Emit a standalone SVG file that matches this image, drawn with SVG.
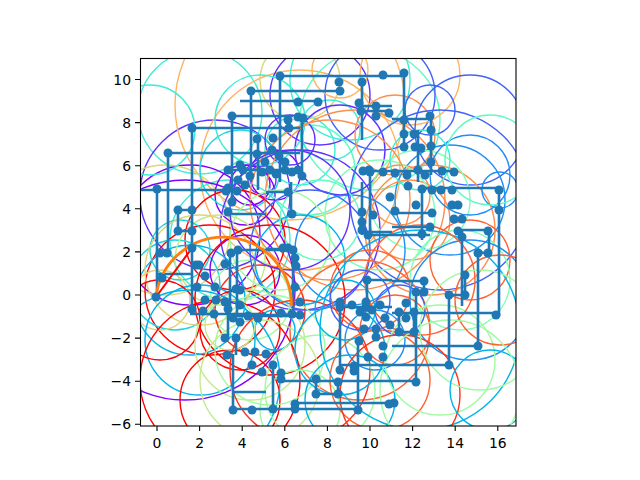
<svg xmlns="http://www.w3.org/2000/svg" width="640" height="480" viewBox="0 0 640 480">
<style>
.c{fill:none;stroke-width:1.4}
.ln{fill:none;stroke:#1f77b4;stroke-width:2.6;stroke-linejoin:round}
.mk{fill:#1f77b4}
.t{font-family:"DejaVu Sans",sans-serif;font-size:13.9px;fill:#000}
.tk{stroke:#000;stroke-width:1.1}
</style>
<defs><clipPath id="ax"><rect x="140" y="58" width="376" height="368"/></clipPath></defs>
<rect x="0" y="0" width="640" height="480" fill="#fff"/>
<g id="circles" clip-path="url(#ax)">
<circle class="c" cx="200" cy="112" r="62" stroke="#40ecd4"/>
<circle class="c" cx="215" cy="195" r="75" stroke="#6032fe"/>
<circle class="c" cx="190" cy="235" r="70" stroke="#8000ff"/>
<circle class="c" cx="300" cy="170" r="100" stroke="#ffb462"/>
<circle class="c" cx="290" cy="105" r="115" stroke="#ffb462"/>
<circle class="c" cx="165" cy="230" r="65" stroke="#dfd478"/>
<circle class="c" cx="230" cy="240" r="60" stroke="#40ecd4"/>
<circle class="c" cx="150" cy="130" r="45" stroke="#40ecd4"/>
<circle class="c" cx="245" cy="195" r="30" stroke="#8000ff"/>
<circle class="c" cx="250" cy="185" r="20" stroke="#8000ff"/>
<circle class="c" cx="262" cy="180" r="14" stroke="#6032fe"/>
<circle class="c" cx="275" cy="175" r="25" stroke="#8000ff"/>
<circle class="c" cx="300" cy="150" r="35" stroke="#40ecd4"/>
<circle class="c" cx="310" cy="170" r="45" stroke="#60fac5"/>
<circle class="c" cx="240" cy="170" r="40" stroke="#20d4e1"/>
<circle class="c" cx="320" cy="95" r="50" stroke="#6032fe"/>
<circle class="c" cx="370" cy="120" r="70" stroke="#60fac5"/>
<circle class="c" cx="300" cy="80" r="40" stroke="#dfd478"/>
<circle class="c" cx="330" cy="130" r="30" stroke="#40ecd4"/>
<circle class="c" cx="350" cy="80" r="60" stroke="#40ecd4"/>
<circle class="c" cx="380" cy="95" r="55" stroke="#4062fa"/>
<circle class="c" cx="340" cy="150" r="45" stroke="#6032fe"/>
<circle class="c" cx="395" cy="135" r="40" stroke="#ff8e4a"/>
<circle class="c" cx="290" cy="140" r="25" stroke="#6032fe"/>
<circle class="c" cx="340" cy="70" r="28" stroke="#ffb462"/>
<circle class="c" cx="260" cy="120" r="45" stroke="#40ecd4"/>
<circle class="c" cx="355" cy="200" r="90" stroke="#ff8e4a"/>
<circle class="c" cx="300" cy="230" r="80" stroke="#6032fe"/>
<circle class="c" cx="410" cy="75" r="50" stroke="#ffb462"/>
<circle class="c" cx="470" cy="130" r="55" stroke="#4062fa"/>
<circle class="c" cx="440" cy="200" r="90" stroke="#4062fa"/>
<circle class="c" cx="430" cy="110" r="25" stroke="#4062fa"/>
<circle class="c" cx="450" cy="200" r="55" stroke="#208ef4"/>
<circle class="c" cx="430" cy="230" r="65" stroke="#ff8e4a"/>
<circle class="c" cx="410" cy="220" r="40" stroke="#ff8e4a"/>
<circle class="c" cx="400" cy="195" r="30" stroke="#ff8e4a"/>
<circle class="c" cx="420" cy="200" r="50" stroke="#80ffb4"/>
<circle class="c" cx="380" cy="215" r="55" stroke="#80ffb4"/>
<circle class="c" cx="470" cy="175" r="40" stroke="#208ef4"/>
<circle class="c" cx="500" cy="190" r="18" stroke="#208ef4"/>
<circle class="c" cx="490" cy="160" r="45" stroke="#60fac5"/>
<circle class="c" cx="420" cy="160" r="30" stroke="#40ecd4"/>
<circle class="c" cx="470" cy="260" r="40" stroke="#ff6232"/>
<circle class="c" cx="460" cy="280" r="50" stroke="#80ffb4"/>
<circle class="c" cx="210" cy="290" r="65" stroke="#ff0000"/>
<circle class="c" cx="235" cy="240" r="50" stroke="#ff0000"/>
<circle class="c" cx="175" cy="285" r="45" stroke="#20d4e1"/>
<circle class="c" cx="190" cy="300" r="55" stroke="#00b4eb"/>
<circle class="c" cx="220" cy="260" r="45" stroke="#c0ec8e"/>
<circle class="c" cx="250" cy="300" r="40" stroke="#a0faa2"/>
<circle class="c" cx="180" cy="250" r="30" stroke="#20d4e1"/>
<circle class="c" cx="160" cy="300" r="30" stroke="#dfd478"/>
<circle class="c" cx="200" cy="270" r="55" stroke="#dfd478"/>
<circle class="c" cx="260" cy="310" r="45" stroke="#ff3219"/>
<circle class="c" cx="245" cy="270" r="35" stroke="#8000ff"/>
<circle class="c" cx="270" cy="300" r="75" stroke="#ff0000"/>
<circle class="c" cx="330" cy="200" r="80" stroke="#ff8e4a"/>
<circle class="c" cx="310" cy="250" r="60" stroke="#4062fa"/>
<circle class="c" cx="300" cy="260" r="45" stroke="#00b4eb"/>
<circle class="c" cx="350" cy="250" r="55" stroke="#208ef4"/>
<circle class="c" cx="280" cy="240" r="50" stroke="#a0faa2"/>
<circle class="c" cx="320" cy="220" r="40" stroke="#60fac5"/>
<circle class="c" cx="290" cy="210" r="60" stroke="#6032fe"/>
<circle class="c" cx="370" cy="290" r="40" stroke="#ff6232"/>
<circle class="c" cx="360" cy="330" r="70" stroke="#ff6232"/>
<circle class="c" cx="200" cy="340" r="55" stroke="#00b4eb"/>
<circle class="c" cx="220" cy="380" r="80" stroke="#ff0000"/>
<circle class="c" cx="160" cy="320" r="40" stroke="#ff0000"/>
<circle class="c" cx="240" cy="330" r="40" stroke="#ff0000"/>
<circle class="c" cx="250" cy="345" r="55" stroke="#c0ec8e"/>
<circle class="c" cx="230" cy="400" r="50" stroke="#ff0000"/>
<circle class="c" cx="190" cy="380" r="90" stroke="#00b4eb"/>
<circle class="c" cx="185" cy="290" r="110" stroke="#8000ff"/>
<circle class="c" cx="270" cy="350" r="55" stroke="#a0faa2"/>
<circle class="c" cx="260" cy="380" r="60" stroke="#c0ec8e"/>
<circle class="c" cx="275" cy="330" r="20" stroke="#00b4eb"/>
<circle class="c" cx="230" cy="325" r="25" stroke="#c0ec8e"/>
<circle class="c" cx="300" cy="370" r="70" stroke="#ff3219"/>
<circle class="c" cx="320" cy="390" r="55" stroke="#a0faa2"/>
<circle class="c" cx="340" cy="350" r="45" stroke="#00b4eb"/>
<circle class="c" cx="300" cy="410" r="40" stroke="#a0faa2"/>
<circle class="c" cx="350" cy="400" r="45" stroke="#00b4eb"/>
<circle class="c" cx="380" cy="380" r="50" stroke="#ff6232"/>
<circle class="c" cx="395" cy="330" r="35" stroke="#ff6232"/>
<circle class="c" cx="400" cy="310" r="25" stroke="#4062fa"/>
<circle class="c" cx="375" cy="340" r="30" stroke="#208ef4"/>
<circle class="c" cx="345" cy="310" r="30" stroke="#00b4eb"/>
<circle class="c" cx="420" cy="330" r="100" stroke="#00b4eb"/>
<circle class="c" cx="470" cy="300" r="60" stroke="#208ef4"/>
<circle class="c" cx="440" cy="360" r="55" stroke="#a0faa2"/>
<circle class="c" cx="420" cy="280" r="55" stroke="#ff6232"/>
<circle class="c" cx="400" cy="395" r="60" stroke="#ff3219"/>
<circle class="c" cx="480" cy="330" r="60" stroke="#a0faa2"/>
<circle class="c" cx="490" cy="390" r="40" stroke="#00b4eb"/>
<circle class="c" cx="500" cy="300" r="45" stroke="#ff6232"/>
<circle class="c" cx="450" cy="390" r="70" stroke="#a0faa2"/>
<circle class="c" cx="360" cy="300" r="30" stroke="#4062fa"/>
</g>
<g id="connectors" clip-path="url(#ax)">
<path class="ln" d="M140,190H233 M157,189V297 M168,153V253H160 M168,153H300 M192,128H300 M192,128V306 M232,116H293 M232,116V200 M251,91H340 M251,91V182 M280,76H404V147 M280,76V182 M240,101H318 M258,139V190 M228,170H300 M302,117V176 M362,82V140 M363,106H392 M363,111H389 M392,119H431V175 M363,171H454 M418,130V182"/>
<path class="ln" d="M422,188H499V316 M422,189V240 M370,170V235H430 M392,213H432 M392,227H430 M462,231V306 M462,230H489V253H478V346 M392,281H424V292H416V306 M449,295H465V275 M392,313H496 M392,346H478 M340,365H449V295 M281,381H416V300 M399,314V332H414V314 M340,307V370 M340,307H392 M316,379V394H338V382 M295,403H392 M233,409H358V341 M273,365V410 M190,314H266 M228,304V338 M236,338V355 M233,354V410 M233,392H266 M157,274H193 M230,252V306 M237,250H293V318 M237,250V316H300 M291,182V214 M266,192H288 M266,249H296 M362,182V235 M370,232H392 M367,280H392 M367,280V306 M178,210H192 M178,210V231H192 M228,214H266 M266,315H293 M354,366V371"/>
<path d="M156,297L192,248" fill="none" stroke="#ff0000" stroke-width="2"/>
<path d="M156,297A68,68 0 0 1 291.5,306" fill="none" stroke="#ff7f0e" stroke-width="2.8"/>
</g>
<g id="markers" clip-path="url(#ax)">
<circle class="mk" cx="280" cy="76" r="4.5"/><circle class="mk" cx="339" cy="82" r="4.5"/><circle class="mk" cx="340" cy="91" r="4.5"/><circle class="mk" cx="362" cy="82" r="4.5"/><circle class="mk" cx="383" cy="75" r="4.5"/><circle class="mk" cx="404" cy="73" r="4.5"/><circle class="mk" cx="251" cy="91" r="4.5"/><circle class="mk" cx="232" cy="116" r="4.5"/><circle class="mk" cx="192" cy="128" r="4.5"/><circle class="mk" cx="168" cy="153" r="4.5"/>
<circle class="mk" cx="298" cy="102" r="4.5"/><circle class="mk" cx="318" cy="102" r="4.5"/><circle class="mk" cx="298" cy="117" r="4.5"/><circle class="mk" cx="303" cy="118" r="4.5"/><circle class="mk" cx="288" cy="120" r="4.5"/><circle class="mk" cx="289" cy="128" r="4.5"/><circle class="mk" cx="273" cy="138" r="4.5"/><circle class="mk" cx="279" cy="156" r="4.5"/><circle class="mk" cx="302" cy="176" r="4.5"/><circle class="mk" cx="359" cy="103" r="4.5"/>
<circle class="mk" cx="361" cy="111" r="4.5"/><circle class="mk" cx="376" cy="106" r="4.5"/><circle class="mk" cx="376" cy="116" r="4.5"/><circle class="mk" cx="389" cy="113" r="4.5"/><circle class="mk" cx="363" cy="171" r="4.5"/><circle class="mk" cx="369" cy="170" r="4.5"/><circle class="mk" cx="430" cy="116" r="4.5"/><circle class="mk" cx="404" cy="120" r="4.5"/><circle class="mk" cx="404" cy="134" r="4.5"/><circle class="mk" cx="414" cy="134" r="4.5"/>
<circle class="mk" cx="431" cy="130" r="4.5"/><circle class="mk" cx="404" cy="147" r="4.5"/><circle class="mk" cx="415" cy="147" r="4.5"/><circle class="mk" cx="421" cy="148" r="4.5"/><circle class="mk" cx="431" cy="146" r="4.5"/><circle class="mk" cx="431" cy="162" r="4.5"/><circle class="mk" cx="395" cy="173" r="4.5"/><circle class="mk" cx="407" cy="175" r="4.5"/><circle class="mk" cx="418" cy="170" r="4.5"/><circle class="mk" cx="425" cy="175" r="4.5"/>
<circle class="mk" cx="442" cy="171" r="4.5"/><circle class="mk" cx="454" cy="172" r="4.5"/><circle class="mk" cx="257" cy="139" r="4.5"/><circle class="mk" cx="257" cy="154" r="4.5"/><circle class="mk" cx="228" cy="170" r="4.5"/><circle class="mk" cx="243" cy="170" r="4.5"/><circle class="mk" cx="250" cy="176" r="4.5"/><circle class="mk" cx="262" cy="172" r="4.5"/><circle class="mk" cx="270" cy="170" r="4.5"/><circle class="mk" cx="276" cy="174" r="4.5"/>
<circle class="mk" cx="285" cy="170" r="4.5"/><circle class="mk" cx="292" cy="172" r="4.5"/><circle class="mk" cx="298" cy="170" r="4.5"/><circle class="mk" cx="238" cy="180" r="4.5"/><circle class="mk" cx="245" cy="185" r="4.5"/><circle class="mk" cx="228" cy="188" r="4.5"/><circle class="mk" cx="240" cy="165" r="4.5"/><circle class="mk" cx="265" cy="162" r="4.5"/><circle class="mk" cx="285" cy="162" r="4.5"/><circle class="mk" cx="272" cy="150" r="4.5"/>
<circle class="mk" cx="422" cy="189" r="4.5"/><circle class="mk" cx="432" cy="190" r="4.5"/><circle class="mk" cx="441" cy="190" r="4.5"/><circle class="mk" cx="452" cy="190" r="4.5"/><circle class="mk" cx="499" cy="190" r="4.5"/><circle class="mk" cx="499" cy="210" r="4.5"/><circle class="mk" cx="452" cy="205" r="4.5"/><circle class="mk" cx="458" cy="205" r="4.5"/><circle class="mk" cx="432" cy="213" r="4.5"/><circle class="mk" cx="454" cy="219" r="4.5"/>
<circle class="mk" cx="462" cy="219" r="4.5"/><circle class="mk" cx="458" cy="231" r="4.5"/><circle class="mk" cx="462" cy="237" r="4.5"/><circle class="mk" cx="488" cy="231" r="4.5"/><circle class="mk" cx="478" cy="253" r="4.5"/><circle class="mk" cx="488" cy="253" r="4.5"/><circle class="mk" cx="430" cy="227" r="4.5"/><circle class="mk" cx="422" cy="234" r="4.5"/><circle class="mk" cx="465" cy="275" r="4.5"/><circle class="mk" cx="424" cy="281" r="4.5"/>
<circle class="mk" cx="424" cy="292" r="4.5"/><circle class="mk" cx="416" cy="292" r="4.5"/><circle class="mk" cx="449" cy="295" r="4.5"/><circle class="mk" cx="465" cy="295" r="4.5"/><circle class="mk" cx="406" cy="303" r="4.5"/><circle class="mk" cx="370" cy="172" r="4.5"/><circle class="mk" cx="383" cy="172" r="4.5"/><circle class="mk" cx="373" cy="215" r="4.5"/><circle class="mk" cx="362" cy="222" r="4.5"/><circle class="mk" cx="368" cy="235" r="4.5"/>
<circle class="mk" cx="362" cy="212" r="4.5"/><circle class="mk" cx="362" cy="230" r="4.5"/><circle class="mk" cx="390" cy="197" r="4.5"/><circle class="mk" cx="395" cy="211" r="4.5"/><circle class="mk" cx="408" cy="186" r="4.5"/><circle class="mk" cx="416" cy="205" r="4.5"/><circle class="mk" cx="496" cy="315" r="4.5"/><circle class="mk" cx="478" cy="346" r="4.5"/><circle class="mk" cx="449" cy="365" r="4.5"/><circle class="mk" cx="416" cy="382" r="4.5"/>
<circle class="mk" cx="394" cy="403" r="4.5"/><circle class="mk" cx="399" cy="312" r="4.5"/><circle class="mk" cx="406" cy="318" r="4.5"/><circle class="mk" cx="414" cy="312" r="4.5"/><circle class="mk" cx="399" cy="332" r="4.5"/><circle class="mk" cx="414" cy="332" r="4.5"/><circle class="mk" cx="281" cy="313" r="4.5"/><circle class="mk" cx="292" cy="314" r="4.5"/><circle class="mk" cx="266" cy="354" r="4.5"/><circle class="mk" cx="273" cy="365" r="4.5"/>
<circle class="mk" cx="281" cy="373" r="4.5"/><circle class="mk" cx="281" cy="379" r="4.5"/><circle class="mk" cx="316" cy="379" r="4.5"/><circle class="mk" cx="316" cy="394" r="4.5"/><circle class="mk" cx="338" cy="382" r="4.5"/><circle class="mk" cx="338" cy="394" r="4.5"/><circle class="mk" cx="340" cy="370" r="4.5"/><circle class="mk" cx="354" cy="366" r="4.5"/><circle class="mk" cx="354" cy="371" r="4.5"/><circle class="mk" cx="368" cy="357" r="4.5"/>
<circle class="mk" cx="383" cy="357" r="4.5"/><circle class="mk" cx="383" cy="346" r="4.5"/><circle class="mk" cx="376" cy="337" r="4.5"/><circle class="mk" cx="376" cy="329" r="4.5"/><circle class="mk" cx="364" cy="329" r="4.5"/><circle class="mk" cx="359" cy="341" r="4.5"/><circle class="mk" cx="366" cy="317" r="4.5"/><circle class="mk" cx="366" cy="307" r="4.5"/><circle class="mk" cx="340" cy="307" r="4.5"/><circle class="mk" cx="273" cy="409" r="4.5"/>
<circle class="mk" cx="295" cy="404" r="4.5"/><circle class="mk" cx="295" cy="409" r="4.5"/><circle class="mk" cx="358" cy="410" r="4.5"/><circle class="mk" cx="389" cy="404" r="4.5"/><circle class="mk" cx="372" cy="310" r="4.5"/><circle class="mk" cx="380" cy="305" r="4.5"/><circle class="mk" cx="385" cy="318" r="4.5"/><circle class="mk" cx="390" cy="325" r="4.5"/><circle class="mk" cx="360" cy="312" r="4.5"/><circle class="mk" cx="352" cy="305" r="4.5"/>
<circle class="mk" cx="192" cy="309" r="4.5"/><circle class="mk" cx="203" cy="311" r="4.5"/><circle class="mk" cx="214" cy="314" r="4.5"/><circle class="mk" cx="228" cy="309" r="4.5"/><circle class="mk" cx="233" cy="318" r="4.5"/><circle class="mk" cx="240" cy="322" r="4.5"/><circle class="mk" cx="248" cy="316" r="4.5"/><circle class="mk" cx="258" cy="318" r="4.5"/><circle class="mk" cx="225" cy="338" r="4.5"/><circle class="mk" cx="236" cy="338" r="4.5"/>
<circle class="mk" cx="227" cy="355" r="4.5"/><circle class="mk" cx="245" cy="352" r="4.5"/><circle class="mk" cx="255" cy="352" r="4.5"/><circle class="mk" cx="252" cy="365" r="4.5"/><circle class="mk" cx="262" cy="372" r="4.5"/><circle class="mk" cx="233" cy="410" r="4.5"/><circle class="mk" cx="252" cy="410" r="4.5"/><circle class="mk" cx="157" cy="189" r="4.5"/><circle class="mk" cx="178" cy="210" r="4.5"/><circle class="mk" cx="192" cy="210" r="4.5"/>
<circle class="mk" cx="178" cy="231" r="4.5"/><circle class="mk" cx="192" cy="231" r="4.5"/><circle class="mk" cx="160" cy="253" r="4.5"/><circle class="mk" cx="167" cy="253" r="4.5"/><circle class="mk" cx="156" cy="297" r="4.5"/><circle class="mk" cx="192" cy="248" r="4.5"/><circle class="mk" cx="196" cy="265" r="4.5"/><circle class="mk" cx="199" cy="265" r="4.5"/><circle class="mk" cx="205" cy="276" r="4.5"/><circle class="mk" cx="197" cy="287" r="4.5"/>
<circle class="mk" cx="215" cy="287" r="4.5"/><circle class="mk" cx="205" cy="300" r="4.5"/><circle class="mk" cx="216" cy="300" r="4.5"/><circle class="mk" cx="225" cy="302" r="4.5"/><circle class="mk" cx="225" cy="264" r="4.5"/><circle class="mk" cx="231" cy="253" r="4.5"/><circle class="mk" cx="238" cy="250" r="4.5"/><circle class="mk" cx="236" cy="289" r="4.5"/><circle class="mk" cx="240" cy="290" r="4.5"/><circle class="mk" cx="240" cy="305" r="4.5"/>
<circle class="mk" cx="232" cy="202" r="4.5"/><circle class="mk" cx="226" cy="191" r="4.5"/><circle class="mk" cx="237" cy="191" r="4.5"/><circle class="mk" cx="228" cy="212" r="4.5"/><circle class="mk" cx="162" cy="278" r="4.5"/><circle class="mk" cx="288" cy="192" r="4.5"/><circle class="mk" cx="292" cy="214" r="4.5"/><circle class="mk" cx="283" cy="248" r="4.5"/><circle class="mk" cx="288" cy="248" r="4.5"/><circle class="mk" cx="293" cy="250" r="4.5"/>
<circle class="mk" cx="295" cy="258" r="4.5"/><circle class="mk" cx="296" cy="266" r="4.5"/><circle class="mk" cx="367" cy="280" r="4.5"/><circle class="mk" cx="366" cy="302" r="4.5"/><circle class="mk" cx="340" cy="302" r="4.5"/><circle class="mk" cx="300" cy="302" r="4.5"/><circle class="mk" cx="295" cy="287" r="4.5"/><circle class="mk" cx="300" cy="315" r="4.5"/>
</g>
<g id="axes">
<rect x="140.5" y="58.5" width="375.5" height="367.5" fill="none" stroke="#000" stroke-width="1.1"/>
<path class="tk" d="M157,426v5 M199.6,426v5 M242.2,426v5 M284.8,426v5 M327.4,426v5 M370,426v5 M412.6,426v5 M455.2,426v5 M497.8,426v5 M140,424.3h-5 M140,381.2h-5 M140,338.1h-5 M140,295h-5 M140,251.9h-5 M140,208.8h-5 M140,165.7h-5 M140,122.6h-5 M140,79.5h-5"/>
<g class="t" text-anchor="middle">
<text x="157" y="448">0</text><text x="199.6" y="448">2</text><text x="242.2" y="448">4</text><text x="284.8" y="448">6</text><text x="327.4" y="448">8</text><text x="370" y="448">10</text><text x="412.6" y="448">12</text><text x="455.2" y="448">14</text><text x="497.8" y="448">16</text>
</g>
<g class="t" text-anchor="end">
<text x="131" y="429.3">−6</text><text x="131" y="386.2">−4</text><text x="131" y="343.1">−2</text><text x="131" y="300">0</text><text x="131" y="256.9">2</text><text x="131" y="213.8">4</text><text x="131" y="170.7">6</text><text x="131" y="127.6">8</text><text x="131" y="84.5">10</text>
</g>
</g>
</svg>
